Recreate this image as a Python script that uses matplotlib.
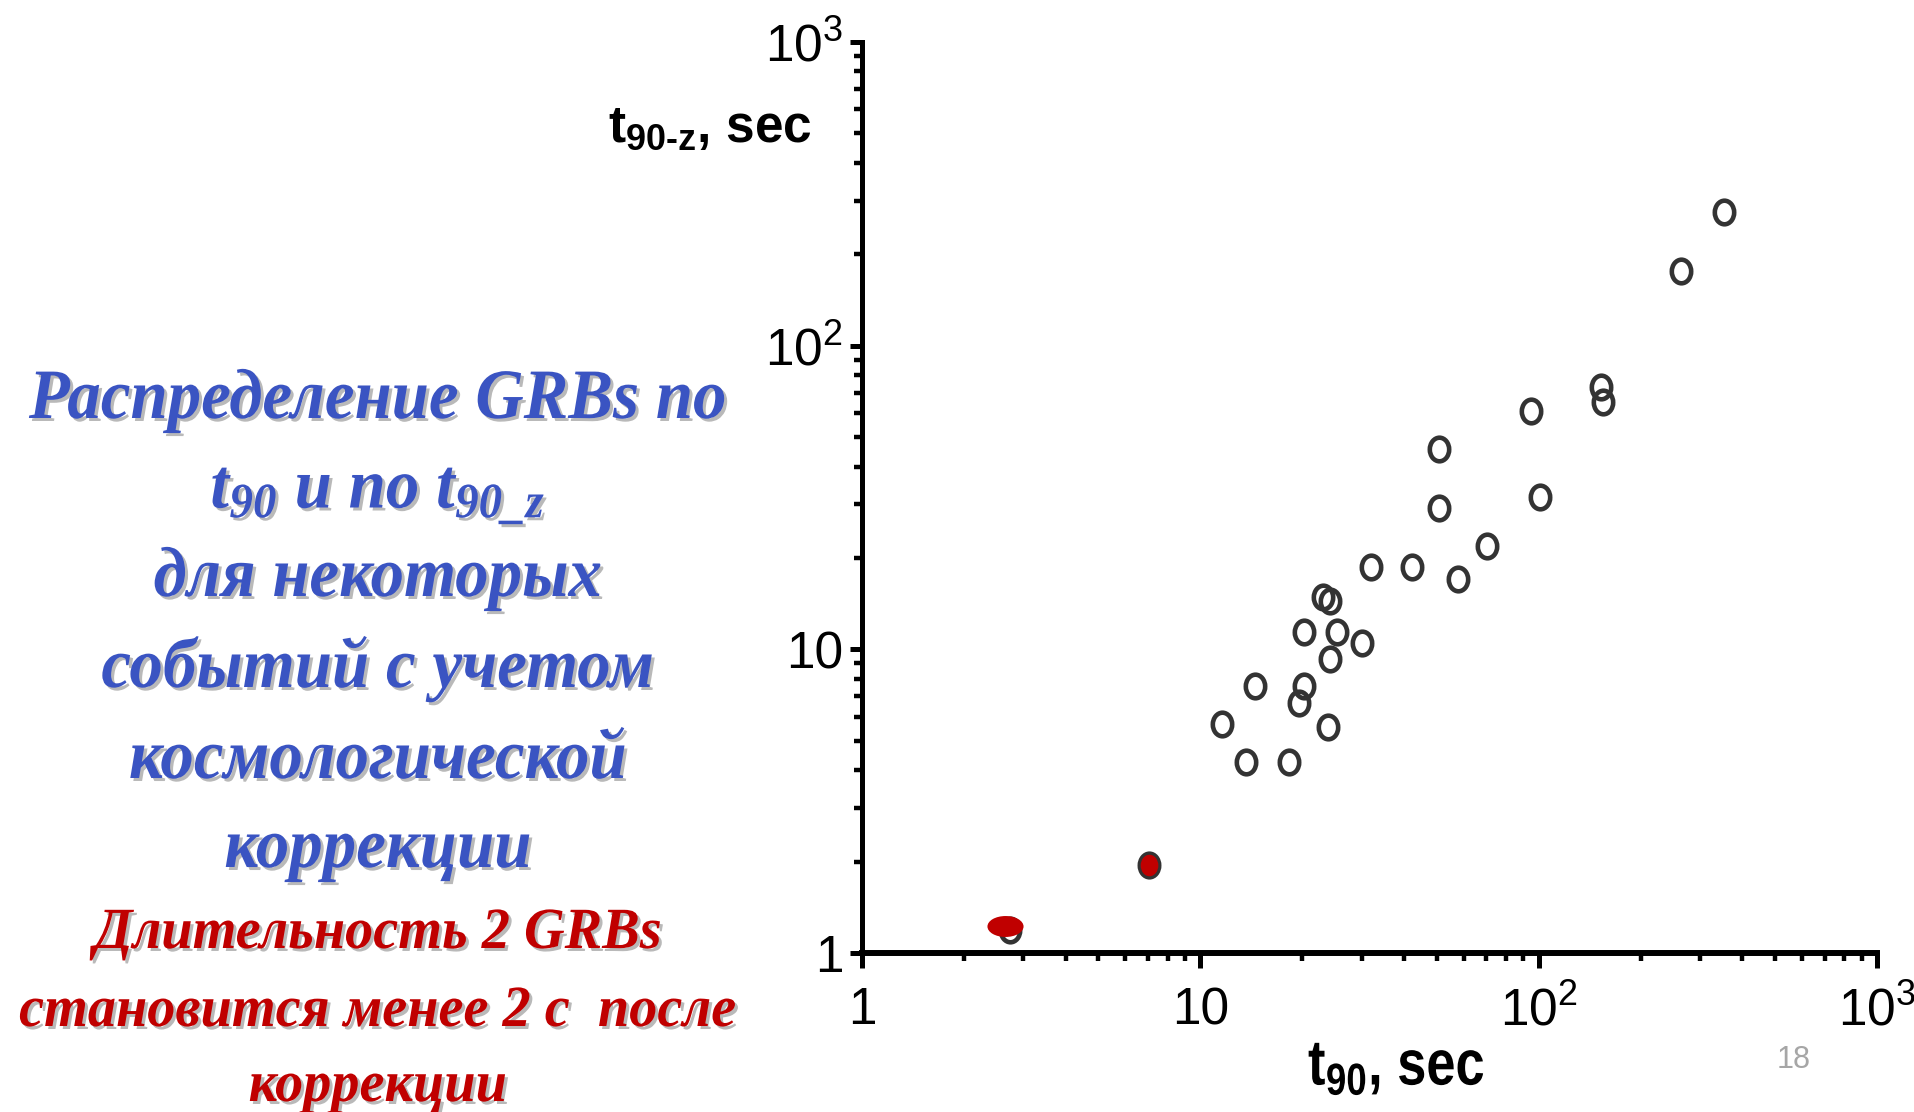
import matplotlib
matplotlib.use("Agg")
import matplotlib.pyplot as plt
import matplotlib.patheffects as pe
from matplotlib import font_manager
from matplotlib.colors import to_rgb
from matplotlib.path import Path
from matplotlib.transforms import Affine2D
from matplotlib.ticker import FixedLocator, FixedFormatter

# t90 vs t90 corrected for redshift (open circles)
t90 = [353, 263, 152.6, 155.4, 94.8, 50.8, 50.8, 101.2, 70.5, 32.0, 42.3,
       57.9, 23.1, 24.1, 20.2, 25.4, 30.0, 24.2, 14.5, 20.2, 19.6, 11.6,
       23.8, 13.6, 18.3, 7.03, 2.73]
t90_z = [276, 176, 73.2, 65.4, 60.9, 45.6, 29.1, 31.7, 21.9, 18.6, 18.6,
         17.1, 14.9, 14.4, 11.4, 11.4, 10.5, 9.27, 7.57, 7.57, 6.64, 5.68,
         5.56, 4.27, 4.27, 1.95, 1.19]

# the two bursts that become shorter than 2 s
red_t90 = [2.65, 7.03]
red_t90_z = [1.23, 1.95]

tick_vals = [1, 10, 100, 1000]
tick_labels = ['1', '10', r'$\mathdefault{10^{2}}$', r'$\mathdefault{10^{3}}$']

blue_lines = ['Распределение GRBs по',
              r'$\mathdefault{t_{90}}$ и по $\mathdefault{t_{90\_z}}$',
              'для некоторых',
              'событий с учетом',
              'космологической',
              'коррекции']
red_lines = ['Длительность 2 GRBs',
             'становится менее 2 с  после',
             'коррекции']

names = {f.name for f in font_manager.fontManager.ttflist}
narrow = 'Liberation Sans Narrow' if 'Liberation Sans Narrow' in names else 'Liberation Sans'


class Squeeze(pe.AbstractPathEffect):
    """draw text paths narrower around x0 (display px), optionally as a shadow"""

    def __init__(self, x0, sx, dx=0, dy=0, color=None, alpha=None):
        super().__init__()
        self.x0, self.sx, self.dx, self.dy = x0, sx, dx, dy
        self.color, self.alpha = color, alpha

    def draw_path(self, renderer, gc, tpath, affine, rgbFace=None):
        t = affine + Affine2D().translate(-self.x0, 0).scale(self.sx, 1) \
            .translate(self.x0 + self.dx, self.dy)
        gc0 = renderer.new_gc()
        gc0.copy_properties(gc)
        if self.color is not None:
            rgbFace = to_rgb(self.color)
            gc0.set_alpha(self.alpha)
        renderer.draw_path(gc0, tpath, t, rgbFace)
        gc0.restore()


W, H = 1915, 1112
fig = plt.figure(figsize=(W / 100, H / 100), dpi=100)
ax = fig.add_axes([862 / W, 1 - 953 / H, (1877 - 862) / W, (953 - 42) / H])

ax.set_xscale('log')
ax.set_yscale('log')
ax.set_xlim(1, 1000)
ax.set_ylim(1, 1000)

ell = Path.unit_circle().transformed(Affine2D().scale(0.82, 1.0))
flat = Path.unit_circle().transformed(Affine2D().scale(1.0, 0.58))

ax.plot(t90, t90_z, ls='none', marker=ell, ms=17, mfc='none',
        mec='#333333', mew=3.3, zorder=3, clip_on=False)
ax.plot(red_t90[:1], red_t90_z[:1], ls='none', marker=flat, ms=26,
        mfc='#c00000', mec='none', zorder=4, clip_on=False)
ax.plot(red_t90[1:], red_t90_z[1:], ls='none', marker=ell, ms=15.5,
        mfc='#c00000', mec='none', zorder=4, clip_on=False)

for s in ['top', 'right']:
    ax.spines[s].set_visible(False)
ax.spines['left'].set_linewidth(3.6)
ax.spines['bottom'].set_linewidth(4.3)

for axis in (ax.xaxis, ax.yaxis):
    axis.set_major_locator(FixedLocator(tick_vals))
    axis.set_major_formatter(FixedFormatter(tick_labels))
ax.tick_params(which='major', direction='out', width=3.6, colors='black',
               labelsize=37)
ax.tick_params(axis='x', which='major', length=11, pad=13)
ax.tick_params(axis='y', which='major', length=8.5, pad=5)
ax.tick_params(which='minor', direction='out', length=5.5, width=3.2)
for lab in ax.get_xticklabels() + ax.get_yticklabels():
    lab.set_fontfamily(narrow)

# axis titles
fig.text(608 / W, 1 - 142 / H, r'$\mathdefault{t_{90‐z}}$, sec', ha='left',
         va='baseline', fontsize=37, fontweight='bold', family='Liberation Sans')
xs = 1.0 if narrow != 'Liberation Sans' else 0.82
fig.text(1308 / W, 1 - 1085 / H, r'$\mathdefault{t_{90}}$, sec', ha='left',
         va='baseline', fontsize=46, fontweight='bold', family=narrow,
         path_effects=[Squeeze(1308, xs)])
fig.text(1794 / W, 1 - 1068 / H, '18', ha='center', va='baseline',
         fontsize=22, color='#a6a6a6', family=narrow)

# slide text on the left
blue_base = [418, 508, 596, 687, 778, 867]
red_base = [948, 1026, 1101]
for txt, yb in zip(blue_lines, blue_base):
    fig.text(378 / W, 1 - yb / H, txt, ha='center', va='baseline',
             fontsize=51, fontweight='bold', style='italic',
             family='Liberation Serif', color='#3a54c2',
             path_effects=[Squeeze(378, 0.945, 3, -3, '#808080', 0.55),
                           Squeeze(378, 0.945)])
for txt, yb in zip(red_lines, red_base):
    fig.text(378 / W, 1 - yb / H, txt, ha='center', va='baseline',
             fontsize=42, fontweight='bold', style='italic',
             family='Liberation Serif', color='#c00000',
             path_effects=[Squeeze(378, 0.965, 3, -3, '#808080', 0.55),
                           Squeeze(378, 0.965)])

fig.savefig('out.png', dpi=100)
